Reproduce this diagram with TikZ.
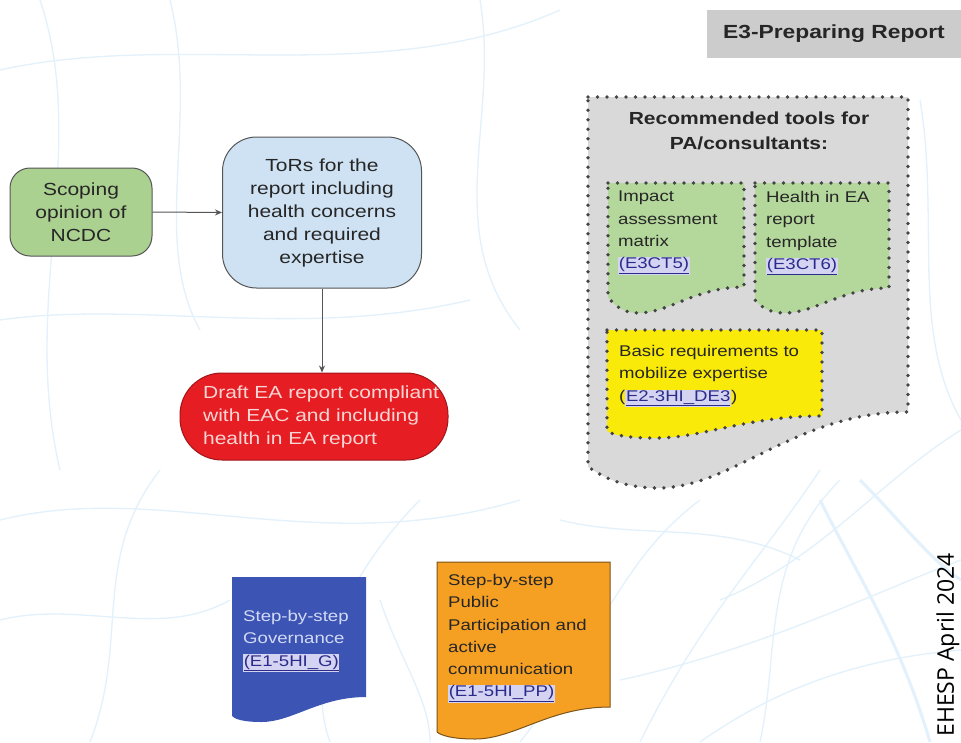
\documentclass[tikz,border=0pt]{standalone}
\usepackage{fontspec}
\setmainfont{Liberation Sans}[FakeStretch=1.2]
\newfontfamily\stampfont{Open Sans}
\usetikzlibrary{arrows.meta}

\definecolor{edgegray}{HTML}{555555}
\definecolor{dotgray}{HTML}{444444}
\definecolor{scopegreen}{HTML}{ABD191}
\definecolor{torsblue}{HTML}{CFE2F3}
\definecolor{draftred}{HTML}{E61E24}
\definecolor{drafttext}{HTML}{F8D6D4}
\definecolor{titlegray}{HTML}{CCCCCC}
\definecolor{panelgray}{HTML}{D9D9D9}
\definecolor{toolgreen}{HTML}{B4D79C}
\definecolor{toolyellow}{HTML}{FAEA0A}
\definecolor{govblue}{HTML}{3C54B4}
\definecolor{govtext}{HTML}{D2DAF5}
\definecolor{pporange}{HTML}{F6A023}
\definecolor{ppedge}{HTML}{7A5418}
\definecolor{darktext}{HTML}{262626}
\definecolor{linkfg}{HTML}{2B2B8C}
\definecolor{linkbg}{HTML}{D4D4F2}
\definecolor{meshblue}{HTML}{E2F1FB}

\newcommand\bigtxt{\fontsize{17.5}{23}\selectfont}
\newcommand\smalltxt{\fontsize{15.5}{22.3}\selectfont}
\newcommand\reflink[1]{{\setlength{\fboxsep}{0.6pt}\colorbox{linkbg}{\textcolor{linkfg}{\underline{#1}}}}}

% document shape: style, left, top, right, bottom-left, lowest point, bottom-right
\newcommand\docshape[7]{%
  \path[#1] (#2,#3) -- (#4,#3) -- (#4,#7)
    .. controls ({#4-0.35*(#4-#2)},#7) and ({#2+0.45*(#4-#2)},#6) .. ({#2+0.22*(#4-#2)},#6)
    .. controls ({#2+0.08*(#4-#2)},#6) and ({#2+0.02*(#4-#2)},{#5+3}) .. (#2,#5) -- cycle;}

\tikzset{
  flowbox/.style={draw=edgegray, line width=1pt, align=center, font=\bigtxt, inner sep=0pt, text=darktext},
  flowarrow/.style={draw=edgegray, line width=1pt, -{Stealth[length=7pt,width=6pt]}},
  dotframe/.style={draw=dotgray, line width=3.8pt, line cap=round, dash pattern=on 0pt off 9.5pt},
  doctext/.style={anchor=north west, inner sep=0pt, align=left, font=\smalltxt, text=darktext},
  meshline/.style={draw=meshblue, line width=1.3pt},
}

\begin{document}
\begin{tikzpicture}[x=1pt, y=-1pt]
\useasboundingbox (0,0) rectangle (961,742);
\fill[white] (0,0) rectangle (961,742);

% faint mesh in the background
\begin{scope}[meshline]
  \draw (0,70) .. controls (180,30) and (380,90) .. (560,10);
  \draw (40,0) .. controls (90,150) and (20,300) .. (60,470);
  \draw (0,320) .. controls (140,300) and (300,340) .. (470,300);
  \draw (170,0) .. controls (200,120) and (150,240) .. (200,330);
  \draw (480,0) .. controls (500,120) and (440,230) .. (520,330);
  \draw (0,520) .. controls (160,480) and (320,560) .. (520,500);
  \draw (90,742) .. controls (130,640) and (90,560) .. (160,470);
  \draw (330,742) .. controls (300,660) and (360,560) .. (420,500);
  \draw (520,742) .. controls (600,640) and (620,560) .. (700,500);
  \draw (640,742) .. controls (700,620) and (760,560) .. (820,470);
  \draw (760,742) .. controls (780,650) and (760,560) .. (840,480);
  \draw (961,430) .. controls (880,480) and (820,560) .. (720,600);
  \draw (961,560) .. controls (880,590) and (760,650) .. (620,680);
  \draw (700,742) .. controls (760,700) and (840,660) .. (961,650);
  \draw (920,100) .. controls (940,220) and (910,330) .. (961,420);
  \draw (560,520) .. controls (640,540) and (720,520) .. (800,560);
  \draw (0,620) .. controls (80,600) and (160,640) .. (230,600);
  \draw (380,600) .. controls (400,660) and (430,700) .. (430,742);
  \draw[line width=3pt] (820,500) .. controls (860,580) and (900,640) .. (930,742);
  \draw[line width=3pt] (860,480) .. controls (900,520) and (930,560) .. (961,580);
\end{scope}

% main flow
\node[flowbox, fill=scopegreen, rounded corners=20pt, minimum width=142pt, minimum height=88pt]
  (scoping) at (81,212) {Scoping\\opinion of\\NCDC};
\node[flowbox, fill=torsblue, rounded corners=34pt, minimum width=199pt, minimum height=151pt]
  (tors) at (322,212.5) {ToRs for the\\report including\\health concerns\\and required\\expertise};
\node[flowbox, fill=draftred, rounded corners=42pt, minimum width=268pt, minimum height=87pt,
      draw=draftred!70!black]
  (draft) at (314,416.5) {};
\node[align=left, inner sep=0pt, font=\bigtxt, text=drafttext]
  (drafttxt) at ([xshift=7pt]draft.center) {Draft EA report compliant\\with EAC and including\\health in EA report};

\draw[flowarrow] (scoping.east) -- (tors.west);
\draw[flowarrow] (tors.south) -- (tors.south |- draft.north);

% stage title
\node[fill=titlegray, minimum width=254pt, minimum height=48pt, inner sep=0pt,
      font=\bfseries\fontsize{19}{23}\selectfont, text=darktext]
  (stage) at (834,34) {E3-Preparing Report};

% panel of recommended tools
\docshape{fill=panelgray, dotframe}{588}{97}{908}{467}{488}{412}
\node[align=center, inner sep=0pt, font=\bfseries\fontsize{17.5}{25}\selectfont, text=darktext]
  (toolstitle) at (749,131) {Recommended tools for\\PA/consultants:};

\docshape{fill=toolgreen, dotframe}{608}{183}{744}{297}{313}{287}
\node[doctext] (matrix) at (618,191) {Impact\\assessment\\matrix\\\reflink{(E3CT5)}};

\docshape{fill=toolgreen, dotframe}{755}{183}{889}{300}{313}{288}
\node[doctext] (template) at (766,191) {Health in EA\\report\\template\\\reflink{(E3CT6)}};

\docshape{fill=toolyellow, dotframe}{607}{330}{822}{431}{438}{416}
\node[doctext] (expertise) at (619,345) {Basic requirements to\\mobilize expertise\\(\reflink{E2-3HI\_DE3})};

% step-by-step guides
\docshape{fill=govblue}{232}{577}{366}{716}{722}{697}
\node[doctext, text=govtext] (governance) at (243,610) {Step-by-step\\Governance\\\reflink{(E1-5HI\_G)}};

\docshape{fill=pporange, draw=ppedge, line width=1pt}{437}{562}{610}{732}{739}{707}
\node[doctext] (participation) at (448,574) {Step-by-step\\Public\\Participation and\\active\\communication\\\reflink{(E1-5HI\_PP)}};

% side stamp
\node[rotate=90, inner sep=0pt, font=\stampfont\fontsize{23}{23}\selectfont, text=black]
  (stamp) at (948,645) {EHESP April 2024};
\end{tikzpicture}
\end{document}
